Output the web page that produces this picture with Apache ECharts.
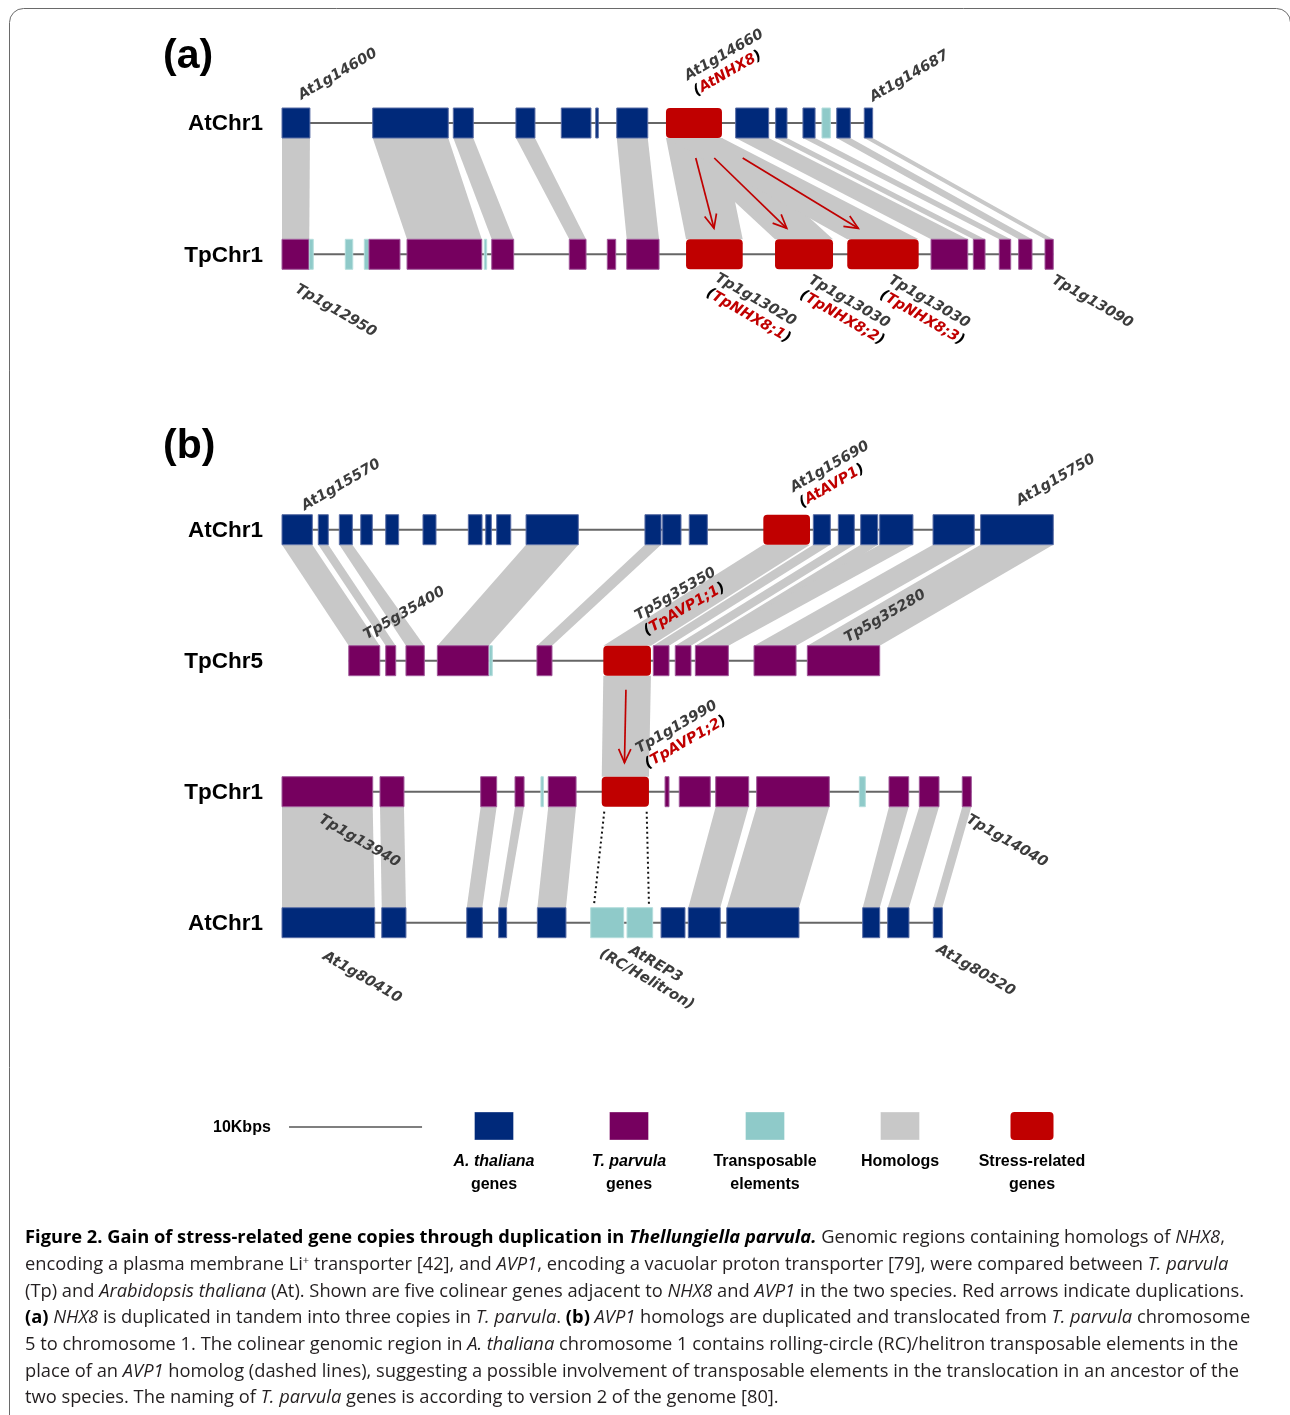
<!DOCTYPE html>
<html><head><meta charset="utf-8">
<script src="https://cdn.jsdelivr.net/npm/echarts@6/dist/echarts.min.js"></script>
<style>html,body{margin:0;padding:0;background:#fff}#c{width:1290px;height:1415px}</style>
</head><body><div id="c"></div>
<script>
// ---------------- DATA (positions in kb along each chromosome segment) ----------------
// gene blocks: [start kb, end kb, kind]  kind: at = A. thaliana gene, tp = T. parvula gene, te = transposable element, sr = stress-related gene
const genesA_At = [[0,2.1,'at'],[6.82,12.50,'at'],[12.88,14.38,'at'],[17.59,19.02,'at'],[21.0,23.23,'at'],[23.59,23.78,'at'],[25.17,27.50,'at'],[28.87,33.08,'sr'],[34.11,36.59,'at'],[37.12,37.97,'at'],[39.17,40.08,'at'],[40.60,41.23,'te'],[41.71,42.73,'at'],[43.78,44.41,'at']];
const genesA_Tp = [[0,2.05,'tp'],[2.05,2.35,'te'],[4.76,5.32,'te'],[6.19,6.54,'te'],[6.54,8.87,'tp'],[9.40,15.02,'tp'],[15.21,15.39,'te'],[15.77,17.42,'tp'],[21.60,22.86,'tp'],[24.46,25.09,'tp'],[25.92,28.35,'tp'],[30.38,34.64,'sr'],[37.07,41.43,'sr'],[42.50,47.87,'sr'],[48.80,51.56,'tp'],[51.98,52.86,'tp'],[53.93,54.79,'tp'],[55.39,56.39,'tp'],[57.37,57.99,'tp']];
const genesB_At = [[0,2.28,'at'],[2.73,3.48,'at'],[4.31,5.29,'at'],[5.92,6.79,'at'],[7.80,8.77,'at'],[10.60,11.58,'at'],[14.01,15.04,'at'],[15.32,15.74,'at'],[16.14,17.20,'at'],[18.35,22.28,'at'],[27.29,28.50,'at'],[28.62,30.00,'at'],[30.62,31.98,'at'],[36.19,39.70,'sr'],[39.95,41.23,'at'],[41.83,43.03,'at'],[43.51,44.79,'at'],[44.94,47.44,'at'],[48.95,52.05,'at'],[52.53,57.99,'at']];
const genesB_Tp5 = [[5.02,7.35,'tp'],[7.80,8.55,'tp'],[9.32,10.70,'tp'],[11.68,15.54,'tp'],[15.59,15.81,'te'],[19.17,20.30,'tp'],[24.16,27.74,'sr'],[27.92,29.10,'tp'],[29.57,30.75,'tp'],[31.08,33.56,'tp'],[35.49,38.65,'tp'],[39.50,44.94,'tp']];
const genesB_Tp1 = [[0,6.82,'tp'],[7.37,9.17,'tp'],[14.94,16.14,'tp'],[17.52,18.20,'tp'],[19.47,19.65,'te'],[20.02,22.11,'tp'],[24.04,27.59,'sr'],[28.80,29.10,'tp'],[29.87,32.20,'tp'],[32.61,35.09,'tp'],[35.69,41.15,'tp'],[43.41,43.86,'te'],[45.64,47.12,'tp'],[47.92,49.40,'tp'],[51.15,51.83,'tp']];
const genesB_At2 = [[0,6.97,'at'],[7.50,9.32,'at'],[13.89,15.06,'at'],[16.29,16.89,'at'],[19.20,21.35,'at'],[23.21,25.69,'te'],[25.94,27.87,'te'],[28.50,30.30,'at'],[30.55,32.95,'at'],[33.44,38.87,'at'],[43.66,44.94,'at'],[45.54,47.14,'at'],[48.97,49.65,'at']];

// homolog links: [gene index on upper row, gene index on lower row]
const linksA = [[0,0],[1,5],[2,7],[3,8],[6,10],[7,11],[7,12],[7,13],[8,14],[9,15],[10,16],[12,17],[13,18]];
const linksB_AtTp5 = [[0,0],[1,1],[2,2],[9,3],[10,5],[13,6],[14,7],[15,8],[16,9],[17,9],[18,10],[19,11]];
const linksB_Tp5Tp1 = [[6,6]];
const linksB_Tp1At = [[0,0],[1,1],[2,2],[3,3],[5,4],[9,8],[10,9],[12,10],[13,11],[14,12]];

// duplication arrows: [from kb, to kb]
const arrowsA = [[31.11,32.48],[32.50,37.95],[34.64,43.33]];
const arrowsB = [[25.86,25.75]];
// dashed correspondence lines (TpChr1 -> AtChr1): [from kb, to kb]
const dashedB = [[24.23,23.46],[27.42,27.59]];
const SCALE_BAR_KB = 10;

// gene name labels
const geneLabels = [
  {row:'aAt', gene:0, side:'up', text:'At1g14600'},
  {row:'aAt', gene:7, side:'up', text:'At1g14660\n{k|(}{r|AtNHX8}{k|)}'},
  {row:'aAt', gene:13, side:'up', text:'At1g14687'},
  {row:'aTp', gene:0, side:'down', text:'Tp1g12950'},
  {row:'aTp', gene:11, side:'down', text:'Tp1g13020\n{k|(}{r|TpNHX8;1}{k|)}'},
  {row:'aTp', gene:12, side:'down', text:'Tp1g13030\n{k|(}{r|TpNHX8;2}{k|)}'},
  {row:'aTp', gene:13, side:'down', text:'Tp1g13030\n{k|(}{r|TpNHX8;3}{k|)}'},
  {row:'aTp', gene:18, side:'down', text:'Tp1g13090'},
  {row:'bAt', gene:0, side:'up', text:'At1g15570'},
  {row:'bAt', gene:13, side:'up', text:'At1g15690\n{k|(}{r|AtAVP1}{k|)}'},
  {row:'bAt', gene:19, side:'up', text:'At1g15750'},
  {row:'bTp5', gene:0, side:'up', text:'Tp5g35400'},
  {row:'bTp5', gene:6, side:'up', text:'Tp5g35350\n{k|(}{r|TpAVP1;1}{k|)}'},
  {row:'bTp5', gene:11, side:'up', text:'Tp5g35280'},
  {row:'bTp1', gene:6, side:'up', text:'Tp1g13990\n{k|(}{r|TpAVP1;2}{k|)}'},
  {row:'bTp1', gene:0, side:'down', text:'Tp1g13940'},
  {row:'bTp1', gene:14, side:'down', text:'Tp1g14040'},
  {row:'bAt2', gene:0, side:'down', text:'At1g80410'},
  {row:'bAt2', gene:6, side:'down', text:'AtREP3\n(RC/Helitron)', center:true},
  {row:'bAt2', gene:12, side:'down', text:'At1g80520'}
];
// label offsets in px (layout only), same order as geneLabels
const labelOffsets = [[8,-4],[5,-8],[7,-2],[5,11],[6,0],[10,2],[11,2],[8,2],[10,0],[18,-3],[5,-5],[5,-2],[22,-6],[6.5,1],[25,-4],[-3,4],[5,4],[0,10],[20,19],[4,3]];

// ---------------- LAYOUT ----------------
const PX_PER_KB = 13.3, ORIGIN_PX = 282, W = 1290, H = 1415;
const ROW_Y = {aAt:123, aTp:254.3, bAt:529.7, bTp5:660.7, bTp1:791.7, bAt2:922.7};
const HALF = 15;
const ROWS = {aAt:genesA_At, aTp:genesA_Tp, bAt:genesB_At, bTp5:genesB_Tp5, bTp1:genesB_Tp1, bAt2:genesB_At2};
const KIND = {at:0, tp:1, te:2, sr:3};
const COLORS = ['#00297a', '#76005f', '#8fcac9', '#c00000'];
const STROKES = ['#5a6ea6', '#a0589a', '#b5dedd', '#c00000'];
const GREY = '#c8c8c8', RED = '#c00000';

const geneData = [], lineData = [], linkData = [];
Object.keys(ROWS).forEach(k => {
  const g = ROWS[k];
  g.forEach(b => geneData.push([b[0], b[1], ROW_Y[k], KIND[b[2]]]));
  lineData.push([Math.min(...g.map(b => b[0])), Math.max(...g.map(b => b[1])), ROW_Y[k]]);
});
function addLinks(top, bot, pairs) {
  pairs.forEach(p => {
    const a = ROWS[top][p[0]], b = ROWS[bot][p[1]];
    linkData.push([a[0], a[1], b[0], b[1], ROW_Y[top] + HALF, ROW_Y[bot] - HALF]);
  });
}
addLinks('aAt', 'aTp', linksA);
addLinks('bAt', 'bTp5', linksB_AtTp5);
addLinks('bTp5', 'bTp1', linksB_Tp5Tp1);
addLinks('bTp1', 'bAt2', linksB_Tp1At);

const arrowData = [];
arrowsA.forEach(a => arrowData.push([a[0], ROW_Y.aAt + HALF + 20, a[1], ROW_Y.aTp - HALF - 11]));
arrowsB.forEach(a => arrowData.push([a[0], ROW_Y.bTp5 + HALF + 14, a[1], ROW_Y.bTp1 - HALF - 14]));
const dashData = dashedB.map(d => [d[0], ROW_Y.bTp1 + HALF + 5, d[1], ROW_Y.bAt2 - HALF - 3]);
const labelData = geneLabels.map((L, i) => {
  const g = ROWS[L.row][L.gene];
  return [(g[0] + g[1]) / 2, L.side === 'up' ? ROW_Y[L.row] - HALF : ROW_Y[L.row] + HALF, i];
});
const SCALE_START_KB = 0.53;
const scaleData = [[SCALE_START_KB, SCALE_START_KB + SCALE_BAR_KB, 1127]];

const LBL_FONT = {fontFamily:'DejaVu Sans', fontWeight:'bold', fontStyle:'italic', fontSize:14.5};
const LH = 17.5;
const RICH = {
  r: Object.assign({fill:RED, lineHeight:LH}, LBL_FONT),
  k: Object.assign({fill:'#000', lineHeight:LH}, LBL_FONT)
};

// ---------------- RENDERERS ----------------
function renderLink(params, api) {
  const a = api.coord([api.value(0), api.value(4)]);
  const b = api.coord([api.value(1), api.value(4)]);
  const c = api.coord([api.value(3), api.value(5)]);
  const d = api.coord([api.value(2), api.value(5)]);
  return {type:'polygon', shape:{points:[a, b, c, d]}, style:{fill:GREY}};
}
function renderLine(params, api) {
  const a = api.coord([api.value(0), api.value(2)]);
  const b = api.coord([api.value(1), api.value(2)]);
  return {type:'line', shape:{x1:a[0], y1:a[1], x2:b[0], y2:b[1]}, style:{stroke:'#666', lineWidth:2}};
}
function renderGene(params, api) {
  const k = api.value(3);
  const p0 = api.coord([api.value(0), api.value(2) - HALF]);
  const p1 = api.coord([api.value(1), api.value(2) + HALF]);
  return {type:'rect', shape:{x:p0[0], y:p0[1], width:p1[0] - p0[0], height:p1[1] - p0[1], r:k === 3 ? 4 : 0},
    style:{fill:COLORS[k], stroke:STROKES[k], lineWidth:k === 3 ? 0 : 1}};
}
function renderArrow(params, api) {
  const s = api.coord([api.value(0), api.value(1)]);
  const e = api.coord([api.value(2), api.value(3)]);
  const ang = Math.atan2(e[1] - s[1], e[0] - s[0]), L = 15, w = 0.42;
  const h1 = [e[0] - L * Math.cos(ang - w), e[1] - L * Math.sin(ang - w)];
  const h2 = [e[0] - L * Math.cos(ang + w), e[1] - L * Math.sin(ang + w)];
  return {type:'group', children:[
    {type:'line', shape:{x1:s[0], y1:s[1], x2:e[0], y2:e[1]}, style:{stroke:RED, lineWidth:1.7}},
    {type:'polyline', shape:{points:[h1, e, h2]}, style:{stroke:RED, lineWidth:1.7, fill:'none'}}
  ]};
}
function renderDash(params, api) {
  const s = api.coord([api.value(0), api.value(1)]);
  const e = api.coord([api.value(2), api.value(3)]);
  return {type:'line', shape:{x1:s[0], y1:s[1], x2:e[0], y2:e[1]}, style:{stroke:'#111', lineWidth:2, lineDash:[2, 3]}};
}
function renderLabel(params, api) {
  const idx = api.value(2), L = geneLabels[idx], off = labelOffsets[idx];
  const p = api.coord([api.value(0), api.value(1)]);
  const up = L.side === 'up';
  return {type:'text', x:p[0] + off[0], y:p[1] + off[1], rotation:up ? Math.PI / 6 : -Math.PI / 6,
    style:Object.assign({text:L.text, align:L.center ? 'center' : 'left', verticalAlign:up ? 'bottom' : 'top',
      fill:'#3c3c3c', lineHeight:LH, rich:RICH}, LBL_FONT)};
}
function renderScale(params, api) {
  const a = api.coord([api.value(0), api.value(2)]);
  const b = api.coord([api.value(1), api.value(2)]);
  return {type:'line', shape:{x1:a[0], y1:a[1], x2:b[0], y2:b[1]}, style:{stroke:'#555', lineWidth:1.5}};
}

// ---------------- STATIC TEXT ----------------
const graphics = [];
graphics.push({type:'rect', shape:{x:9.5, y:8.5, width:1281, height:1460, r:14}, style:{fill:'none', stroke:'#6a6a6a', lineWidth:1}, z:0, silent:true});
const BIG = {fontFamily:'Liberation Sans', fontWeight:'bold', fill:'#000'};
graphics.push({type:'text', x:163, y:57, style:Object.assign({text:'(a)', fontSize:41, verticalAlign:'middle'}, BIG)});
graphics.push({type:'text', x:163, y:447, style:Object.assign({text:'(b)', fontSize:41, verticalAlign:'middle'}, BIG)});
const rowNames = [['AtChr1', 'aAt'], ['TpChr1', 'aTp'], ['AtChr1', 'bAt'], ['TpChr5', 'bTp5'], ['TpChr1', 'bTp1'], ['AtChr1', 'bAt2']];
rowNames.forEach(r => graphics.push({type:'text', x:263, y:ROW_Y[r[1]] + 1, style:Object.assign({text:r[0], fontSize:22.5, align:'right', verticalAlign:'middle'}, BIG)}));

// legend
const LEG = {fontFamily:'Liberation Sans', fontWeight:'bold', fontSize:16, fill:'#000'};
graphics.push({type:'text', x:213, y:1128, style:Object.assign({text:'10Kbps', verticalAlign:'middle'}, LEG)});
const legendItems = [
  [494, COLORS[0], '{i|A. thaliana}\ngenes'],
  [629, COLORS[1], '{i|T. parvula}\ngenes'],
  [765, COLORS[2], 'Transposable\nelements'],
  [900, GREY, 'Homologs'],
  [1032, COLORS[3], 'Stress-related\ngenes']
];
legendItems.forEach((it, i) => {
  const w = i === 4 ? 43 : 39;
  graphics.push({type:'rect', shape:{x:it[0] - w / 2, y:1112, width:w, height:28, r:i === 4 ? 4 : 0}, style:{fill:it[1], stroke:i===4?null:'rgba(255,255,255,0.35)', lineWidth:1}});
  graphics.push({type:'text', x:it[0], y:1150, style:Object.assign({text:it[2], align:'center', verticalAlign:'top', lineHeight:23,
    rich:{i:Object.assign({fontStyle:'italic', lineHeight:23}, LEG)}}, LEG)});
});

// caption
const capLines = [
  '{b|Figure 2. Gain of stress-related gene copies through duplication in }{bi|Thellungiella parvula.} Genomic regions containing homologs of {i|NHX8},',
  'encoding a plasma membrane Li{sup|+} transporter [42], and {i|AVP1}, encoding a vacuolar proton transporter [79], were compared between {i|T. parvula}',
  '(Tp) and {i|Arabidopsis thaliana} (At). Shown are five colinear genes adjacent to {i|NHX8} and {i|AVP1} in the two species. Red arrows indicate duplications.',
  '{b|(a)} {i|NHX8} is duplicated in tandem into three copies in {i|T. parvula}. {b|(b)} {i|AVP1} homologs are duplicated and translocated from {i|T. parvula} chromosome',
  '5 to chromosome 1. The colinear genomic region in {i|A. thaliana} chromosome 1 contains rolling-circle (RC)/helitron transposable elements in the',
  'place of an {i|AVP1} homolog (dashed lines), suggesting a possible involvement of transposable elements in the translocation in an ancestor of the',
  'two species. The naming of {i|T. parvula} genes is according to version 2 of the genome [80].'
];
const CAP_FAMILY = 'Open Sans';
let capSize = 16;
try {
  const ctx = document.createElement('canvas').getContext('2d');
  ctx.font = '16px "' + CAP_FAMILY + '"';
  const plain = capLines[1].replace(/\{\w+\|([^}]*)\}/g, '$1');
  const w = ctx.measureText(plain).width;
  if (w > 0) capSize = 16 * 1214 / w;
} catch (e) {}
const CAPF = {fontFamily:CAP_FAMILY, fontSize:capSize, fill:'#231f20'};
const capRich = {
  b: Object.assign({}, CAPF, {fontWeight:'bold', fill:'#000'}),
  bi: Object.assign({}, CAPF, {fontWeight:'bold', fontStyle:'italic', fill:'#000'}),
  i: Object.assign({}, CAPF, {fontStyle:'italic'}),
  sup: Object.assign({}, CAPF, {fontSize:capSize * 0.6, verticalAlign:'top', padding:[0,0,8,0]})
};
capLines.forEach((t, i) => graphics.push({type:'text', x:25, y:1238 + i * 26.67,
  style:Object.assign({text:t, verticalAlign:'middle', rich:capRich}, CAPF)}));

// ---------------- CHART ----------------
const chart = echarts.init(document.getElementById('c'), null, {renderer:'canvas'});
chart.setOption({
  animation:false,
  grid:{left:0, right:0, top:0, bottom:0, containLabel:false},
  xAxis:{type:'value', min:-ORIGIN_PX / PX_PER_KB, max:(W - ORIGIN_PX) / PX_PER_KB, show:false},
  yAxis:{type:'value', min:0, max:H, inverse:true, show:false},
  series:[
    {type:'custom', name:'Homologs', renderItem:renderLink, data:linkData, z:1, clip:false, silent:true},
    {type:'custom', name:'chromosomes', renderItem:renderLine, data:lineData, z:2, clip:false, silent:true},
    {type:'custom', name:'genes', renderItem:renderGene, data:geneData, z:3, clip:false, silent:true},
    {type:'custom', name:'duplications', renderItem:renderArrow, data:arrowData, z:4, clip:false, silent:true},
    {type:'custom', name:'dashed', renderItem:renderDash, data:dashData, z:4, clip:false, silent:true},
    {type:'custom', name:'labels', renderItem:renderLabel, data:labelData, z:5, clip:false, silent:true},
    {type:'custom', name:'scale', renderItem:renderScale, data:scaleData, z:5, clip:false, silent:true}
  ],
  graphic:{elements:graphics}
});
</script>
</body></html>
